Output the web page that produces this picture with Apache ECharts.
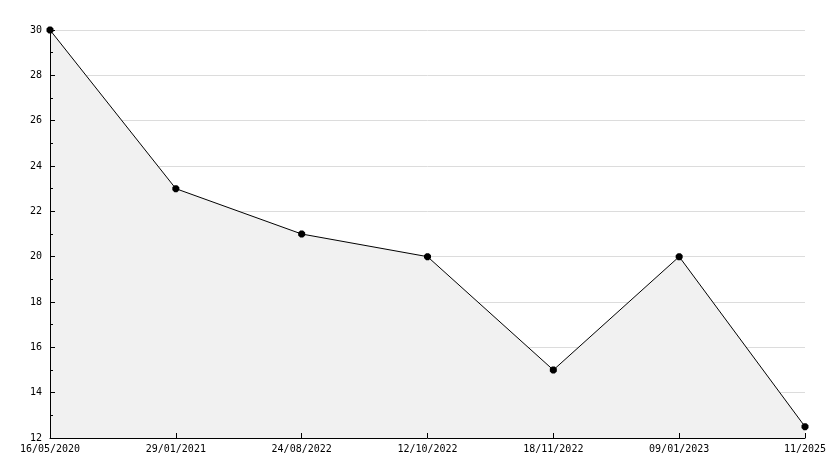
<!DOCTYPE html>
<html><head><meta charset="utf-8">
<script src="https://cdn.jsdelivr.net/npm/echarts@6/dist/echarts.min.js"></script>
<style>html,body{margin:0;padding:0;background:#fff}#c{width:834px;height:468px}</style>
</head><body><div id="c"></div>
<script>
const categories = ['16/05/2020','29/01/2021','24/08/2022','12/10/2022','18/11/2022','09/01/2023','11/2025'];
const values = [30, 23, 21, 20, 15, 20, 12.5];
const yMin = 12, yMax = 30, yStep = 2;

const font = {fontFamily: 'DejaVu Sans Mono', fontSize: 10, color: '#000'};
const chart = echarts.init(document.getElementById('c'), null, {renderer: 'canvas'});
chart.setOption({
  animation: false,
  backgroundColor: '#fff',
  grid: {left: 50, right: 29, top: 30, bottom: 30, containLabel: false},
  xAxis: {
    type: 'category', data: categories, boundaryGap: false, z: 10,
    axisLine: {lineStyle: {color: '#000', width: 1}},
    axisTick: {inside: true, length: 5, lineStyle: {color: '#000'}},
    axisLabel: Object.assign({margin: 6, interval: 0}, font),
    splitLine: {show: false}
  },
  yAxis: [{
    type: 'value', min: yMin, max: yMax, interval: yStep, z: 0,
    axisLine: {show: false},
    axisTick: {show: false},
    axisLabel: Object.assign({margin: 8}, font),
    splitLine: {show: true, lineStyle: {color: '#dcdcdc', width: 1}}
  }, {
    type: 'value', min: yMin, max: yMax, interval: yStep, z: 10, position: 'left', offset: 0,
    axisLine: {show: true, lineStyle: {color: '#000', width: 1}},
    axisTick: {show: true, inside: true, length: 5, lineStyle: {color: '#000'}},
    minorTick: {show: true, splitNumber: 2, length: 3, lineStyle: {color: '#000'}},
    axisLabel: {show: false},
    splitLine: {show: false}
  }],
  series: [{
    type: 'line', data: values, z: 2, yAxisIndex: 0,
    symbol: 'path://M0,3L3,0L7,0L10,3L10,7L7,10L3,10L0,7Z', symbolSize: 7,
    itemStyle: {color: '#000'},
    lineStyle: {color: '#000', width: 1},
    areaStyle: {color: '#f1f1f1', opacity: 1}
  }]
});
</script></body></html>
